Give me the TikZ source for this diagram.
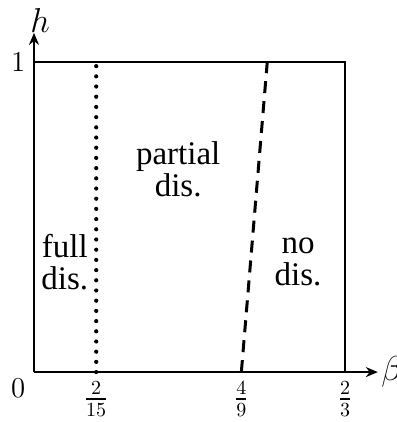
\documentclass[tikz,border=0pt]{standalone}
\usepackage{amsmath,amssymb}
\usepackage{fontspec}
\newfontfamily\regionfont{Liberation Serif}
\usepackage{tikz}
\usetikzlibrary{positioning, calc, arrows.meta}

\begin{document}
\begin{tikzpicture}[x=8.2cm, y=5.45cm,
        % Style definitions
        axis/.style={
            -{Stealth[length=6pt, width=5pt]},
            line width=1pt
        },
        region/.style={
            font=\regionfont\fontsize{16.5}{16}\selectfont,
            align=center,
            inner sep=0pt
        },
        tick/.style={
            font=\Large,
            inner sep=0pt
        }
    ]
        \useasboundingbox (-0.0729,-0.161) rectangle (0.776,1.2);

        % ==========================================
        % Axes and frame
        % ==========================================
        \coordinate (origin) at (0,0);
        \coordinate (xend) at (0.737,0);
        \coordinate (yend) at (0,1.094);

        \draw [axis] (origin) -- (xend);
        \draw [axis] (origin) -- (yend);

        % Frame of the region (0 <= beta <= 2/3, 0 <= h <= 1)
        \draw [line width=1pt] (0,1) -- (2/3,1) -- (2/3,0);

        % Boundaries between the regions
        \draw [line width=2.1pt, line cap=round, dash pattern=on 0pt off 5.1pt]
            (2/15,0) -- (2/15,1);
        \draw [line width=1.5pt, dash pattern=on 6pt off 4pt] (4/9,0) -- (1/2,1);

        % ==========================================
        % Axis labels
        % ==========================================
        \node (hlabel) [tick, font=\LARGE] at (0.013,1.135) {$h$};
        \node (blabel) [tick, font=\LARGE] at (0.767,0) {$\beta$};
        \node (one) [tick] at (-0.034,1) {$1$};
        \node (zero) [tick] at (-0.034,-0.052) {$0$};

        \node (f1) [tick] at (2/15,-0.087) {$\frac{2}{15}$};
        \node (f2) [tick] at (4/9,-0.087) {$\frac{4}{9}$};
        \node (f3) [tick] at (2/3,-0.087) {$\frac{2}{3}$};

        % ==========================================
        % Region names
        % ==========================================
        \node (full) [region] at (0.066,0.355) {full\\dis.};
        \node (partial) [region] at (0.309,0.655) {partial\\dis.};
        \node (none) [region] at (0.566,0.355) {no\\dis.};

    \end{tikzpicture}
\end{document}
